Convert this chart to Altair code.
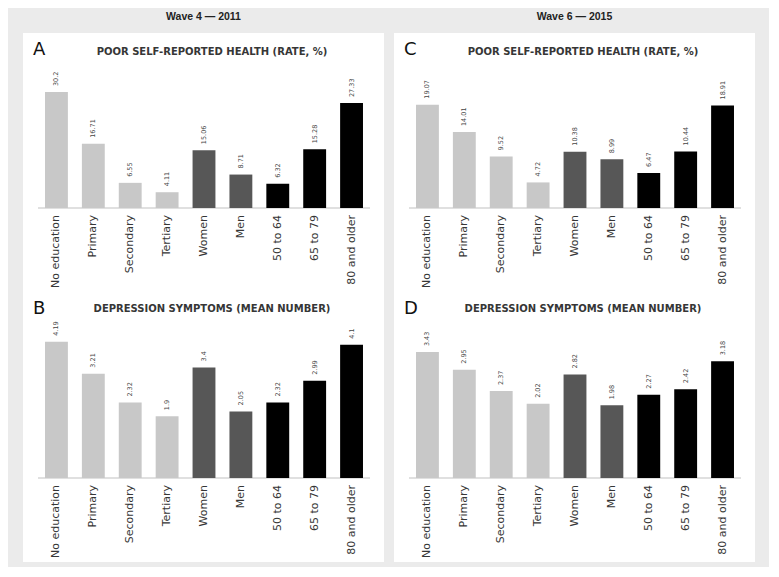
import altair as alt
import pandas as pd

categories = ["No education", "Primary", "Secondary", "Tertiary", "Women", "Men",
              "50 to 64", "65 to 79", "80 and older"]
groups = ["Education", "Education", "Education", "Education", "Sex", "Sex", "Age", "Age", "Age"]
group_names = ["Education", "Sex", "Age"]
group_colors = ["#c8c8c8", "#575757", "#000000"]

health_2011 = [30.2, 16.71, 6.55, 4.11, 15.06, 8.71, 6.32, 15.28, 27.33]
depression_2011 = [4.19, 3.21, 2.32, 1.9, 3.4, 2.05, 2.32, 2.99, 4.1]
health_2015 = [19.07, 14.01, 9.52, 4.72, 10.38, 8.99, 6.47, 10.44, 18.91]
depression_2015 = [3.43, 2.95, 2.37, 2.02, 2.82, 1.98, 2.27, 2.42, 3.18]

title_health = "POOR SELF-REPORTED HEALTH (RATE, %)"
title_depression = "DEPRESSION SYMPTOMS (MEAN NUMBER)"
wave_titles = ["Wave 4 \u2014 2011", "Wave 6 \u2014 2015"]

PANEL_W = 361
X_RANGE = [15, 347]
TEXT_COLOR = "#363636"


def panel(values, letter, title, px_per_unit, baseline, height, title_y, letter_y):
    df = pd.DataFrame({
        "cat": categories,
        "grp": groups,
        "val": values,
        "lab": [f"{v:g}" for v in values],
    })
    one = pd.DataFrame({"k": [0]})
    dmax = baseline / px_per_unit
    x = alt.X("cat:N", sort=categories, axis=None,
              scale=alt.Scale(range=X_RANGE, paddingInner=0.38, paddingOuter=0.19))
    y = alt.Y("val:Q", axis=None,
              scale=alt.Scale(domain=[0, dmax], range=[baseline, 0], nice=False, zero=True))

    base_line = alt.Chart(one).mark_rule(color="#d6d6d6", strokeWidth=1.5).encode(
        x=alt.value(X_RANGE[0]), x2=alt.value(X_RANGE[1]), y=alt.value(baseline))

    bars = alt.Chart(df).mark_bar().encode(
        x=x, y=y,
        color=alt.Color("grp:N", legend=None,
                        scale=alt.Scale(domain=group_names, range=group_colors)))

    vals = alt.Chart(df).mark_text(angle=270, align="left", baseline="middle", dx=6,
                                   font="DejaVu Sans", fontSize=6.5,
                                   color="#444444").encode(x=x, y=y, text="lab:N")

    xlabels = alt.Chart(df).mark_text(angle=270, align="right", baseline="middle",
                                      font="DejaVu Sans", fontSize=11,
                                      color=TEXT_COLOR).encode(
        x=x, y=alt.value(baseline + 7), text="cat:N")

    ttl = alt.Chart(one).mark_text(font="DejaVu Sans", fontWeight="bold", fontSize=10,
                                   color=TEXT_COLOR, align="center",
                                   baseline="middle").encode(
        x=alt.value(189), y=alt.value(title_y), text=alt.value(title))

    let = alt.Chart(one).mark_text(font="DejaVu Sans", fontSize=18, color="#111111",
                                   align="left", baseline="middle").encode(
        x=alt.value(10), y=alt.value(letter_y), text=alt.value(letter))

    return alt.layer(base_line, bars, vals, xlabels, ttl, let).properties(
        width=PANEL_W, height=height)


A = panel(health_2011, "A", title_health, 3.84, 175, 259, 18.5, 17)
B = panel(depression_2011, "B", title_depression, 32.5, 186, 270, 16.5, 16.5)
C = panel(health_2015, "C", title_health, 5.42, 175, 259, 18.5, 17)
D = panel(depression_2015, "D", title_depression, 36.7, 186, 270, 16.5, 16.5)


def col(top, bottom, wt):
    return alt.vconcat(top, bottom, spacing=0).properties(
        title=alt.Title(wt, anchor="middle", font="Liberation Sans", fontSize=10.5,
                        fontWeight="bold", color="#222222", offset=11))


chart = alt.hconcat(col(A, B, wave_titles[0]), col(C, D, wave_titles[1]), spacing=10).properties(
    background="#ebebeb",
    padding={"left": 15, "top": 3, "right": 14, "bottom": 5},
).configure_view(fill="white", stroke=None)

chart.save("out.html", embed_options={"renderer": "svg", "actions": False})
